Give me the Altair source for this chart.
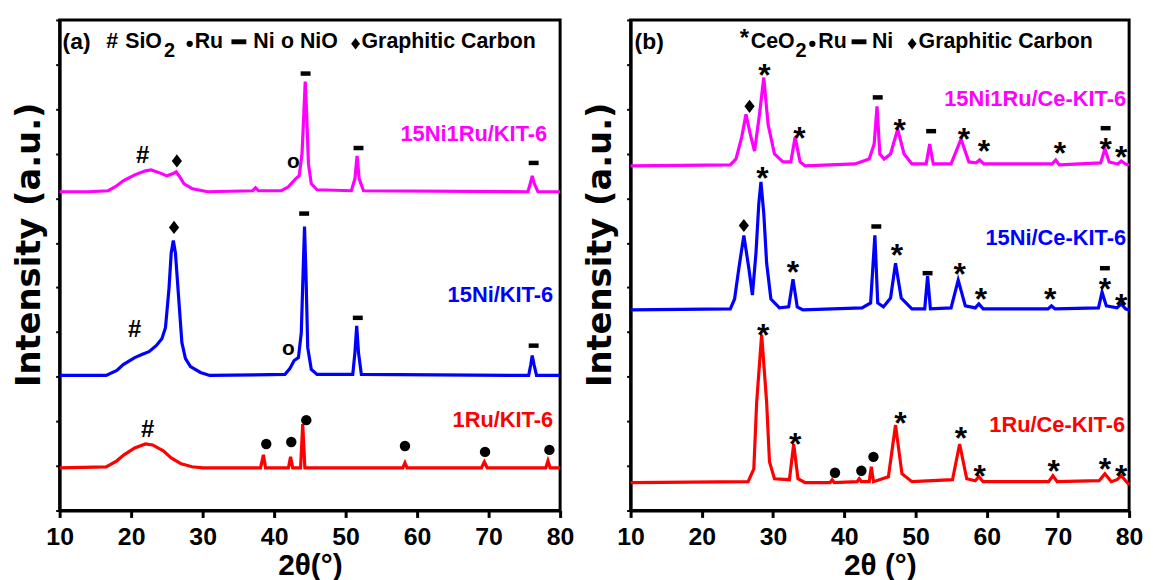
import altair as alt
import pandas as pd

# ---------------- data (arbitrary intensity units) -------------
# Panel (a)
a_ni1ru_x = [10, 14, 16.8, 18.0, 18.9, 20.5, 22.0, 22.8, 24.0, 25.0, 25.8, 26.3, 26.8, 27.4, 28.6, 30.7,
             37.0, 37.4, 37.8, 41.0, 42.0, 43.0, 43.5, 43.9, 44.15, 44.35, 44.55, 44.8, 45.2, 46.0,
             50.8, 51.3, 51.6, 51.9, 52.5, 75.5, 75.9, 76.1, 76.4, 76.9, 80]
a_ni1ru_y = [321, 321, 322, 327, 332, 338, 342, 343, 340, 337, 339, 341, 336, 329, 324, 321,
             322, 325, 322, 322, 326, 334, 337, 359, 399, 432, 399, 349, 329, 323,
             322, 334, 357, 334, 322, 321, 331, 337, 329, 321, 321]

a_ni_x = [10, 16.5, 18.0, 18.9, 20.5, 21.5, 22.5, 23.5, 24.3, 24.8, 25.3, 25.6, 25.9, 26.2, 26.6, 27.1,
          27.6, 28.3, 29.7, 31, 41.5, 42.2, 42.8, 43.4, 43.8, 44.05, 44.25, 44.45, 44.7, 45.2, 46,
          51.0, 51.3, 51.55, 51.8, 52.2, 75.6, 75.9, 76.1, 76.35, 76.7, 80]
a_ni_y = [136, 136, 141, 147, 154, 157, 160, 166, 173, 184, 224, 259, 272, 259, 219, 169,
          153, 145, 139, 136, 137, 143, 151, 154, 179, 239, 286, 239, 164, 142, 137,
          137, 159, 186, 159, 137, 136, 147, 156, 147, 136, 136]

a_ru_x = [10, 16.5, 18.0, 19.0, 20.5, 22.0, 23.0, 24.5, 25.6, 27.0, 28.5, 30, 38.1, 38.5, 38.8,
          42.0, 42.3, 42.6, 43.7, 44.0, 44.3, 58.0, 58.3, 58.6, 69.0, 69.4, 69.8, 78.0, 78.3, 78.6, 80]
a_ru_y = [43, 44, 50, 56, 63, 67, 66, 60, 53, 47, 44, 43, 43, 56, 43,
          43, 54, 43, 43, 87, 43, 43, 48, 43, 43, 49, 43, 43, 50, 43, 43]

# Panel (b)
b_ni1ru_x = [10, 24.0, 24.8, 25.6, 26.2, 26.8, 27.4, 28.1, 28.7, 29.3, 30.2, 31.4, 32.5, 33.1, 33.8,
             34.5, 41.5, 43.5, 44.2, 44.6, 45.0, 45.6, 46.5, 47.5, 48.4, 49.5, 51.5, 52.0, 52.5, 55.0,
             56.4, 57.5, 58.5, 59.0, 59.6, 69.2, 69.7, 70.2, 76.0, 76.6, 77.2, 78.4, 78.9, 79.5, 80]
b_ni1ru_y = [347, 348, 354, 376, 399, 379, 362, 399, 436, 389, 359, 351, 351, 376, 351,
             347, 349, 354, 369, 407, 359, 354, 359, 384, 359, 349, 349, 369, 349, 349,
             374, 351, 350, 353, 349, 349, 353, 348, 350, 364, 351, 349, 352, 349, 348]

b_ni_x = [10, 24.0, 24.6, 25.2, 25.9, 26.6, 27.1, 27.6, 28.0, 28.3, 28.7, 29.1, 29.7, 30.9, 32.2,
          32.8, 33.4, 34.2, 42.5, 43.7, 44.3, 44.7, 45.5, 46.5, 47.2, 48.0, 49.5, 51.3, 51.7, 52.1,
          55.0, 56.0, 57.0, 58.4, 58.9, 59.5, 68.6, 69.1, 69.6, 75.7, 76.2, 76.8, 78.3, 78.9, 79.5, 80]
b_ni_y = [202, 203, 213, 244, 277, 244, 217, 259, 309, 331, 299, 249, 213, 204, 205,
          233, 205, 202, 204, 209, 277, 209, 205, 214, 249, 214, 203, 203, 236, 203,
          204, 232, 206, 204, 208, 203, 203, 206, 203, 204, 220, 206, 204, 208, 203, 202]

b_ru_x = [10, 26.5, 27.3, 27.7, 28.4, 29.1, 29.5, 30.2, 32.3, 32.9, 33.5, 34.5, 38.0, 38.3, 38.6,
          41.8, 42.1, 42.4, 43.5, 43.8, 44.1, 46.2, 47.2, 48.1, 49.5, 55.2, 56.2, 57.2, 58.4, 58.9,
          59.5, 68.7, 69.3, 69.9, 75.8, 76.6, 77.5, 78.3, 78.9, 79.5, 80]
b_ru_y = [28, 29, 42, 109, 177, 109, 49, 32, 31, 67, 32, 28, 28, 31, 28,
          29, 32, 29, 29, 44, 29, 34, 86, 37, 29, 31, 67, 32, 30, 34,
          29, 29, 35, 29, 30, 37, 29, 31, 35, 30, 26]

# peak markers: symbol, 2theta, height
a_mk_sym = ["#", "♦", "o", "▬", "▬", "▬",
            "#", "♦", "o", "▬", "▬", "▬",
            "#", "●", "●", "●", "●", "●", "●"]
a_mk_x = [21.6, 26.4, 42.7, 44.4, 51.8, 76.3,
          20.5, 26.0, 42.0, 44.2, 51.7, 76.3,
          22.3, 38.9, 42.4, 44.5, 58.3, 69.5, 78.5]
a_mk_y = [357, 352, 349, 440, 365, 350,
          182, 285, 161, 299, 194, 166,
          81, 67, 69, 91, 65, 59, 61]

b_mk_sym = ["♦", "*", "*", "▬", "*", "▬", "*", "*", "*", "▬", "*", "*",
            "*", "♦", "*", "▬", "*", "▬", "*", "*", "*", "▬", "*", "*",
            "*", "*", "●", "●", "●", "*", "*", "*", "*", "*", "*"]
b_mk_x = [26.7, 28.8, 33.7, 44.7, 47.8, 52.2, 56.8, 59.6, 70.3, 76.7, 76.7, 78.9,
          28.5, 25.9, 32.8, 44.5, 47.4, 51.7, 56.2, 59.2, 68.9, 76.6, 76.6, 78.9,
          28.6, 33.1, 38.7, 42.4, 44.1, 47.9, 56.4, 59.0, 69.4, 76.6, 78.9]
b_mk_y = [407, 447, 384, 416, 392, 382, 383, 371, 369, 385, 373, 365,
          344, 287, 249, 286, 266, 239, 247, 222, 222, 244, 232, 216,
          186, 76, 38, 40, 54, 97, 82, 44, 49, 51, 44]

a_names = ["15Ni1Ru/KIT-6", "15Ni/KIT-6", "1Ru/KIT-6"]
b_names = ["15Ni1Ru/Ce-KIT-6", "15Ni/Ce-KIT-6", "1Ru/Ce-KIT-6"]
colors = ["#FF00FF", "#0000FF", "#FF0000"]

# ---------------- styling ----------------
FONT = "Liberation Sans, Arial, sans-serif"
WIDE = "DejaVu Sans, Verdana, sans-serif"
DIA = "M0,-1.3L1,0L0,1.3L-1,0Z"
DASH = "M-1,-0.45L1,-0.45L1,0.45L-1,0.45Z"
DASH_WIDE = "M-1,-0.33L1,-0.33L1,0.33L-1,0.33Z"
H = 494
LEG = 21.5


def line_df(names, xs, ys):
    rows = []
    for n, xv, yv in zip(names, xs, ys):
        for a, b in zip(xv, yv):
            rows.append({"series": n, "x": a, "y": b})
    return pd.DataFrame(rows)


def txt(s, x, y, size=LEG, color="black", align="left", weight="bold", dy=0):
    return alt.Chart(pd.DataFrame({"t": [s]})).mark_text(
        align=align, baseline="middle", font=FONT, fontSize=size, fontWeight=weight,
        color=color, dy=dy
    ).encode(x=alt.value(x), y=alt.value(y), text="t:N")


def pt(x, y, shape, size):
    return alt.Chart(pd.DataFrame({"t": [0]})).mark_point(
        shape=shape, size=size, filled=True, color="black", strokeWidth=0, opacity=1
    ).encode(x=alt.value(x), y=alt.value(y))


def panel(names, xs, ys, mk_sym, mk_x, mk_y, width, xtitle, extra):
    df = line_df(names, xs, ys)
    xsc = alt.Scale(domain=[10, 80], nice=False, zero=False)
    ysc = alt.Scale(domain=[0, H], nice=False, zero=False)
    xaxis = alt.Axis(
        values=list(range(10, 81, 5)),
        labelExpr="datum.value % 10 === 0 ? datum.label : ''",
        title=xtitle, titleFont=FONT, titleFontSize=30, titleFontWeight="bold",
        titleY=40, titleColor="black",
        labelFont=FONT, labelFontSize=25, labelFontWeight="bold", labelColor="black",
        labelPadding=7, labelFlush=False, labelOverlap=False,
        tickSize=7, tickWidth=3, tickColor="black",
        domainColor="black", domainWidth=3, grid=False,
    )
    yaxis = alt.Axis(
        values=[round(i * H / 22, 2) for i in range(23)],
        labels=False, tickSize=4, tickWidth=2, tickColor="black",
        domainColor="black", domainWidth=3, grid=False,
        title="Intensity (a.u.)", titleFont=WIDE, titleFontSize=34, titleFontWeight="bold",
        titleColor="black", titleX=-30, titleY=226, titleBaseline="middle",
    )
    lines = alt.Chart(df).mark_line(strokeWidth=3.2).encode(
        x=alt.X("x:Q", scale=xsc, axis=xaxis),
        y=alt.Y("y:Q", scale=ysc, axis=yaxis),
        color=alt.Color("series:N", scale=alt.Scale(domain=names, range=colors), legend=None),
        detail="series:N",
    )
    mk = pd.DataFrame({"sym": mk_sym, "x": mk_x, "y": mk_y})
    layers = [lines]
    for g, size, dy in [("#", 24, 0), ("o", 21, -2), ("*", 32, 10)]:
        sub = mk[mk["sym"] == g]
        if len(sub):
            layers.append(alt.Chart(sub).mark_text(
                font=FONT, fontSize=size, fontWeight="bold", color="black",
                baseline="middle", align="center", dy=dy
            ).encode(x="x:Q", y="y:Q", text="sym:N"))
    sub = mk[mk["sym"].isin(["●", "♦", "▬"])]
    if len(sub):
        layers.append(alt.Chart(sub).mark_point(filled=True, color="black", strokeWidth=0, opacity=1).encode(
            x="x:Q", y="y:Q",
            shape=alt.Shape("sym:N", scale=alt.Scale(domain=["●", "♦", "▬"], range=["circle", DIA, DASH]), legend=None),
            size=alt.Size("sym:N", scale=alt.Scale(domain=["●", "♦", "▬"], range=[110, 100, 110]), legend=None),
        ))
    layers += extra
    return alt.layer(*layers).properties(width=width, height=H)


extra_a = [
    txt("(a)", 3, 22, size=23),
    txt("#", 47, 22),
    txt("SiO", 66, 22),
    txt("2", 105, 31, size=20),
    pt(131, 24, "circle", 40),
    txt("Ru", 136, 22),
    pt(180.5, 22, DASH_WIDE, 225),
    txt("Ni", 195, 22),
    txt("o", 223, 22),
    txt("NiO", 242, 22),
    pt(298, 24, DIA, 80),
    txt("Graphitic Carbon", 304, 22),
    txt(a_names[0], 491, 115, size=22, color=colors[0], align="right"),
    txt(a_names[1], 497, 277, size=22, color=colors[1], align="right"),
    txt(a_names[2], 497, 403, size=22, color=colors[2], align="right"),
]
extra_b = [
    txt("(b)", 4, 22, size=23),
    txt("*", 110, 12, size=24, dy=7),
    txt("CeO", 121, 22),
    txt("2", 166, 31, size=20),
    pt(183, 24, "circle", 40),
    txt("Ru", 189, 22),
    pt(230, 22, DASH_WIDE, 225),
    txt("Ni", 243, 22),
    pt(283.5, 24, DIA, 80),
    txt("Graphitic Carbon", 290, 22),
    txt(b_names[0], 499, 80, size=22, color=colors[0], align="right"),
    txt(b_names[1], 499, 220, size=22, color=colors[1], align="right"),
    txt(b_names[2], 498, 408, size=22, color=colors[2], align="right"),
]

pa = panel(a_names, [a_ni1ru_x, a_ni_x, a_ru_x], [a_ni1ru_y, a_ni_y, a_ru_y],
           a_mk_sym, a_mk_x, a_mk_y, 504, "2θ(°)", extra_a)
pb = panel(b_names, [b_ni1ru_x, b_ni_x, b_ru_x], [b_ni1ru_y, b_ni_y, b_ru_y],
           b_mk_sym, b_mk_x, b_mk_y, 502, "2θ (°)", extra_b)

chart = alt.hconcat(pa, pb, spacing=71, bounds="flush").properties(
    padding={"left": 3, "top": 7, "right": 0, "bottom": 0},
    background="white",
).configure_view(stroke="black", strokeWidth=3).configure_axis(grid=False)

chart.save("out.html", embed_options={"renderer": "svg", "actions": False})
